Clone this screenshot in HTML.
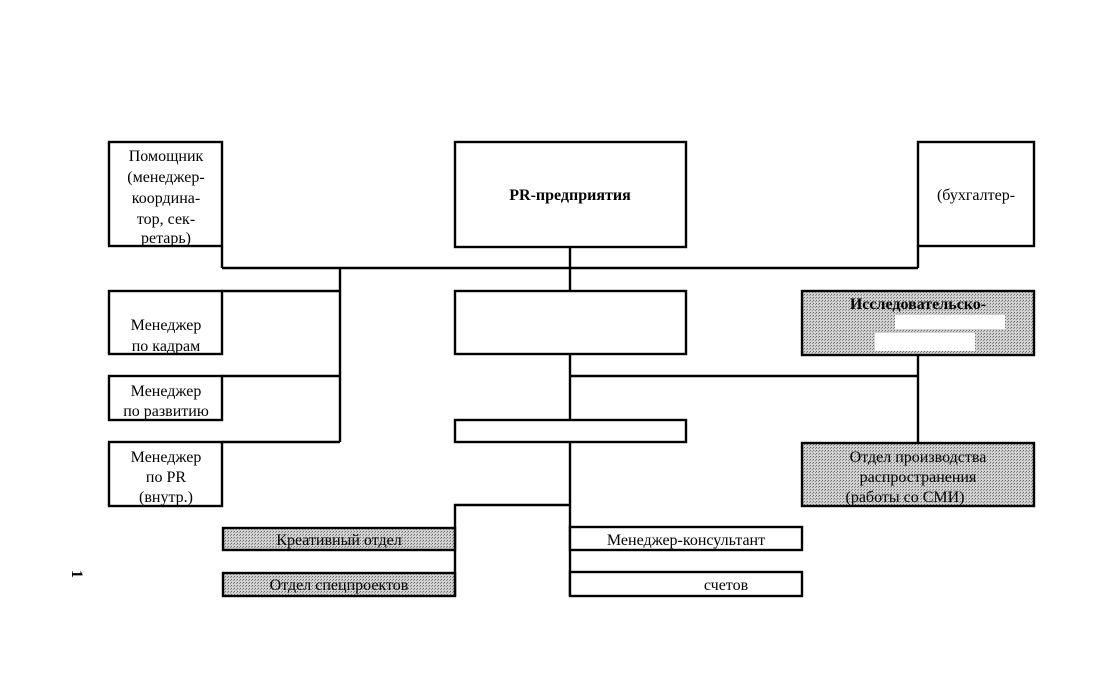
<!DOCTYPE html>
<html><head><meta charset="utf-8"><style>
html,body{margin:0;padding:0;background:#fff;}
svg{display:block;}
text{font-family:"Liberation Serif","DejaVu Serif",serif;font-size:16px;fill:#000;}
</style></head><body>
<svg width="1120" height="696" viewBox="0 0 1120 696" xmlns="http://www.w3.org/2000/svg">
<defs>
<pattern id="dots" width="3" height="3" patternUnits="userSpaceOnUse">
<rect width="3" height="3" fill="#d2d2d2"/>
<rect x="0" y="0" width="1" height="1" fill="#666"/>
<rect x="2" y="1" width="1" height="1" fill="#888"/>
</pattern>
</defs>
<g fill="none" stroke="#000" stroke-width="2.4">
<polyline points="222,268 918,268"/>
<line x1="222" y1="246" x2="222" y2="268"/>
<line x1="918" y1="246" x2="918" y2="268"/>
<line x1="340" y1="268" x2="340" y2="442"/>
<line x1="222" y1="291" x2="340" y2="291"/>
<line x1="222" y1="376" x2="340" y2="376"/>
<line x1="222" y1="442" x2="340" y2="442"/>
<line x1="570" y1="247" x2="570" y2="291"/>
<line x1="570" y1="354" x2="570" y2="420"/>
<line x1="570" y1="376" x2="918" y2="376"/>
<line x1="918" y1="355" x2="918" y2="443"/>
<line x1="570" y1="442" x2="570" y2="596"/>
<polyline points="570,505 455,505 455,596"/>
<rect x="109" y="142" width="113" height="104" fill="#fff"/>
<rect x="455" y="142" width="231" height="105" fill="#fff"/>
<rect x="918" y="142" width="116" height="104" fill="#fff"/>
<rect x="109" y="291" width="113" height="63" fill="#fff"/>
<rect x="455" y="291" width="231" height="63" fill="#fff"/>
<rect x="802" y="291" width="232" height="64" fill="url(#dots)"/>
<rect x="109" y="376" width="113" height="44" fill="#fff"/>
<rect x="455" y="420" width="231" height="22" fill="#fff"/>
<rect x="109" y="442" width="113" height="64" fill="#fff"/>
<rect x="802" y="443" width="232" height="63" fill="url(#dots)"/>
<rect x="223" y="528" width="232" height="22" fill="url(#dots)"/>
<rect x="223" y="573" width="232" height="23" fill="url(#dots)"/>
<rect x="570" y="527" width="232" height="23" fill="#fff"/>
<rect x="570" y="572" width="232" height="24" fill="#fff"/>
</g>
<rect x="895" y="315" width="110" height="14" fill="#fff"/>
<rect x="875" y="333" width="100" height="18" fill="#fff"/>
<g text-anchor="middle">
<text x="166" y="161">Помощник</text>
<text x="166" y="182">(менеджер-</text>
<text x="166" y="203">координа-</text>
<text x="166" y="224">тор, сек-</text>
<text x="166" y="243">ретарь)</text>
<text x="570" y="200" font-weight="bold">PR-предприятия</text>
<text x="976" y="200">(бухгалтер-</text>
<text x="166" y="330">Менеджер</text>
<text x="166" y="351">по кадрам</text>
<text x="166" y="396">Менеджер</text>
<text x="166" y="416">по развитию</text>
<text x="166" y="462">Менеджер</text>
<text x="166" y="482">по PR</text>
<text x="166" y="502">(внутр.)</text>
<text x="918" y="309" font-weight="bold">Исследовательско-</text>
<text x="918" y="462">Отдел производства</text>
<text x="918" y="482">распространения</text>
<text x="905" y="502">(работы со СМИ)</text>
<text x="339" y="545">Креативный отдел</text>
<text x="339" y="590">Отдел спецпроектов</text>
<text x="686" y="545">Менеджер-консультант</text>
<text x="726" y="590">счетов</text>
</g>
<text x="72" y="570" font-size="14" font-weight="bold" transform="rotate(90 72 570)">1</text>
</svg>
</body></html>
